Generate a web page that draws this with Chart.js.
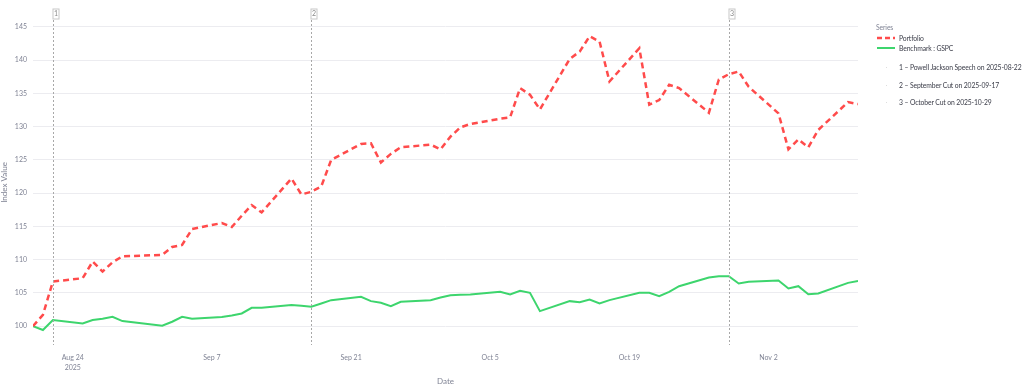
<!DOCTYPE html>
<html><head><meta charset="utf-8">
<script src="https://cdn.jsdelivr.net/npm/chart.js@4.4.1/dist/chart.umd.min.js"></script>
<style>
html,body{margin:0;padding:0;background:#fff;width:1024px;height:391px;overflow:hidden;font-family:Lato,"Open Sans",sans-serif;}
#wrap{position:relative;width:1024px;height:391px;}
#c{position:absolute;left:0;top:0;}
.lg{position:absolute;font-size:6.8px;letter-spacing:-0.12px;color:#3a3c48;white-space:nowrap;line-height:9px;transform:translateY(-50%);}
.sw{position:absolute;}
</style></head><body>
<div id="wrap"><canvas id="c" width="1024" height="391"></canvas><div id="legend"></div></div>
<script>
const dates = ['2025-08-20','2025-08-21','2025-08-22','2025-08-25','2025-08-26','2025-08-27','2025-08-28','2025-08-29',
'2025-09-02','2025-09-03','2025-09-04','2025-09-05','2025-09-08','2025-09-09','2025-09-10','2025-09-11','2025-09-12',
'2025-09-15','2025-09-16','2025-09-17','2025-09-18','2025-09-19','2025-09-22','2025-09-23','2025-09-24','2025-09-25','2025-09-26',
'2025-09-29','2025-09-30','2025-10-01','2025-10-02','2025-10-03','2025-10-06','2025-10-07','2025-10-08','2025-10-09','2025-10-10',
'2025-10-13','2025-10-14','2025-10-15','2025-10-16','2025-10-17','2025-10-20','2025-10-21','2025-10-22','2025-10-23','2025-10-24',
'2025-10-27','2025-10-28','2025-10-29','2025-10-30','2025-10-31','2025-11-03','2025-11-04','2025-11-05','2025-11-06','2025-11-07',
'2025-11-10','2025-11-11'];
const portfolio = [100.0,101.7,106.7,107.2,109.7,108.2,109.6,110.5,
110.7,111.9,112.2,114.6,115.5,114.9,116.6,118.2,117.1,
122.2,119.8,120.2,121.0,125.0,127.4,127.5,124.6,125.9,126.9,
127.3,126.6,128.5,129.9,130.4,131.2,131.4,135.8,134.8,132.6,
140.2,141.3,143.6,142.8,136.8,141.8,133.3,134.0,136.3,135.8,
132.1,137.1,137.9,138.3,136.0,132.0,126.6,128.1,126.9,129.5,
133.7,133.4];
const benchmark = [100.0,99.4,100.9,100.4,100.9,101.1,101.4,100.75,
100.05,100.65,101.4,101.1,101.35,101.6,101.9,102.75,102.75,
103.15,103.05,102.9,103.4,103.9,104.4,103.75,103.5,103.0,103.65,
103.9,104.3,104.65,104.7,104.75,105.15,104.75,105.3,105.0,102.25,
103.75,103.6,104.0,103.4,103.9,105.0,105.0,104.5,105.15,106.0,
107.3,107.5,107.5,106.4,106.65,106.85,105.65,106.0,104.8,104.9,
106.5,106.8];
const seriesNames = ['Portfolio','Benchmark : GSPC'];
const eventDates = ['2025-08-22','2025-09-17','2025-10-29'];
const eventNums = ['1','2','3'];
const eventLabels = ['1 – Powell Jackson Speech on 2025-08-22','2 – September Cut on 2025-09-17','3 – October Cut on 2025-10-29'];
const xTickDates = ['2025-08-24','2025-09-07','2025-09-21','2025-10-05','2025-10-19','2025-11-02'];
const xTickLabels = [['Aug 24','2025'],'Sep 7','Sep 21','Oct 5','Oct 19','Nov 2'];
const yTicks = [100,105,110,115,120,125,130,135,140,145];

const dayNum = s => { const [y,m,d] = s.split('-').map(Number); return Date.UTC(y,m-1,d)/864e5; };
const FONT = 'Lato, "Open Sans", sans-serif';
const GRAY = '#808495';

const eventPlugin = {
  id:'events',
  afterDatasetsDraw(chart){
    const {ctx, chartArea, scales:{x}} = chart;
    ctx.save();
    eventDates.forEach((d,i)=>{
      const px = Math.round(x.getPixelForValue(dayNum(d)))+0.5;
      ctx.strokeStyle = '#a8a8a8';
      ctx.lineWidth = 1;
      ctx.setLineDash([2,2]);
      ctx.beginPath(); ctx.moveTo(px, chartArea.top); ctx.lineTo(px, chartArea.bottom); ctx.stroke();
      ctx.setLineDash([]);
      ctx.fillStyle='#fff';
      ctx.fillRect(px-0.5, chartArea.top-11, 6, 10);
      ctx.strokeStyle = '#c8c8c8';
      ctx.strokeRect(px-0.5, chartArea.top-11, 6, 10);
      ctx.fillStyle = '#8a8a8a';
      ctx.font = '7px ' + FONT;
      ctx.textAlign='center'; ctx.textBaseline='middle';
      ctx.fillText(eventNums[i], px+2.5, chartArea.top-6);
    });
    ctx.restore();
  }
};

new Chart(document.getElementById('c'), {
  type:'line',
  data:{datasets:[
    {label:seriesNames[0], data:dates.map((d,i)=>({x:dayNum(d),y:portfolio[i]})), borderColor:'#ff4b4b', borderWidth:2.5, borderDash:[6,4], pointRadius:0, tension:0, fill:false},
    {label:seriesNames[1], data:dates.map((d,i)=>({x:dayNum(d),y:benchmark[i]})), borderColor:'#3dd56d', borderWidth:2, pointRadius:0, tension:0, fill:false}
  ]},
  options:{
    responsive:false, animation:false, devicePixelRatio:1,
    layout:{padding:{top:20,right:166,left:0,bottom:0}},
    plugins:{legend:{display:false}, tooltip:{enabled:false}},
    scales:{
      x:{type:'linear', min:dayNum(dates[0]), max:dayNum(dates[dates.length-1]),
        grid:{display:false, drawTicks:false}, border:{display:false},
        afterBuildTicks:s=>{ s.ticks = xTickDates.map(d=>({value:dayNum(d)})); },
        afterFit:s=>{ s.height = 46; },
        ticks:{autoSkip:false, maxRotation:0, padding:8, color:GRAY, font:{family:FONT,size:7,lineHeight:1.4},
          callback:(v,i)=>xTickLabels[i]},
        title:{display:true, text:'Date', color:GRAY, font:{family:FONT,size:8}, padding:{top:0,bottom:5}}
      },
      y:{type:'linear', min:97.15, max:146.05,
        grid:{color:'#ececf0', drawTicks:false, lineWidth:1}, border:{display:false},
        afterBuildTicks:s=>{ s.ticks = yTicks.map(v=>({value:v})); },
        afterFit:s=>{ s.width = 33; },
        ticks:{padding:6, color:GRAY, font:{family:FONT,size:7}},
        title:{display:true, text:'Index Value', color:GRAY, font:{family:FONT,size:8}, padding:{top:0,bottom:0}}
      }
    }
  },
  plugins:[eventPlugin]
});

// legend
const lg = document.getElementById('legend');
function addText(txt,x,y,color){ const d=document.createElement('div'); d.className='lg'; d.textContent=txt; d.style.left=x+'px'; d.style.top=y+'px'; if(color) d.style.color=color; lg.appendChild(d); }
addText('Series',876,27,GRAY);
const sw = (y,color,dash,w)=>`<svg class="sw" style="left:877px;top:${y-3}px" width="20" height="6"><line x1="0" y1="3" x2="18" y2="3" stroke="${color}" stroke-width="${w}" ${dash?'stroke-dasharray="5,3"':''}/></svg>`;
lg.insertAdjacentHTML('beforeend', sw(38,'#ff4b4b',true,2.5) + sw(48,'#3dd56d',false,2));
addText(seriesNames[0],899,38);
addText(seriesNames[1],899,48);
const evY=[67,85,102];
eventLabels.forEach((t,i)=>{
  lg.insertAdjacentHTML('beforeend', `<div style="position:absolute;left:886px;top:${evY[i]}px;width:1px;height:1px;background:#ddd"></div>`);
  addText(t,899,evY[i]);
});
</script>
</body></html>
